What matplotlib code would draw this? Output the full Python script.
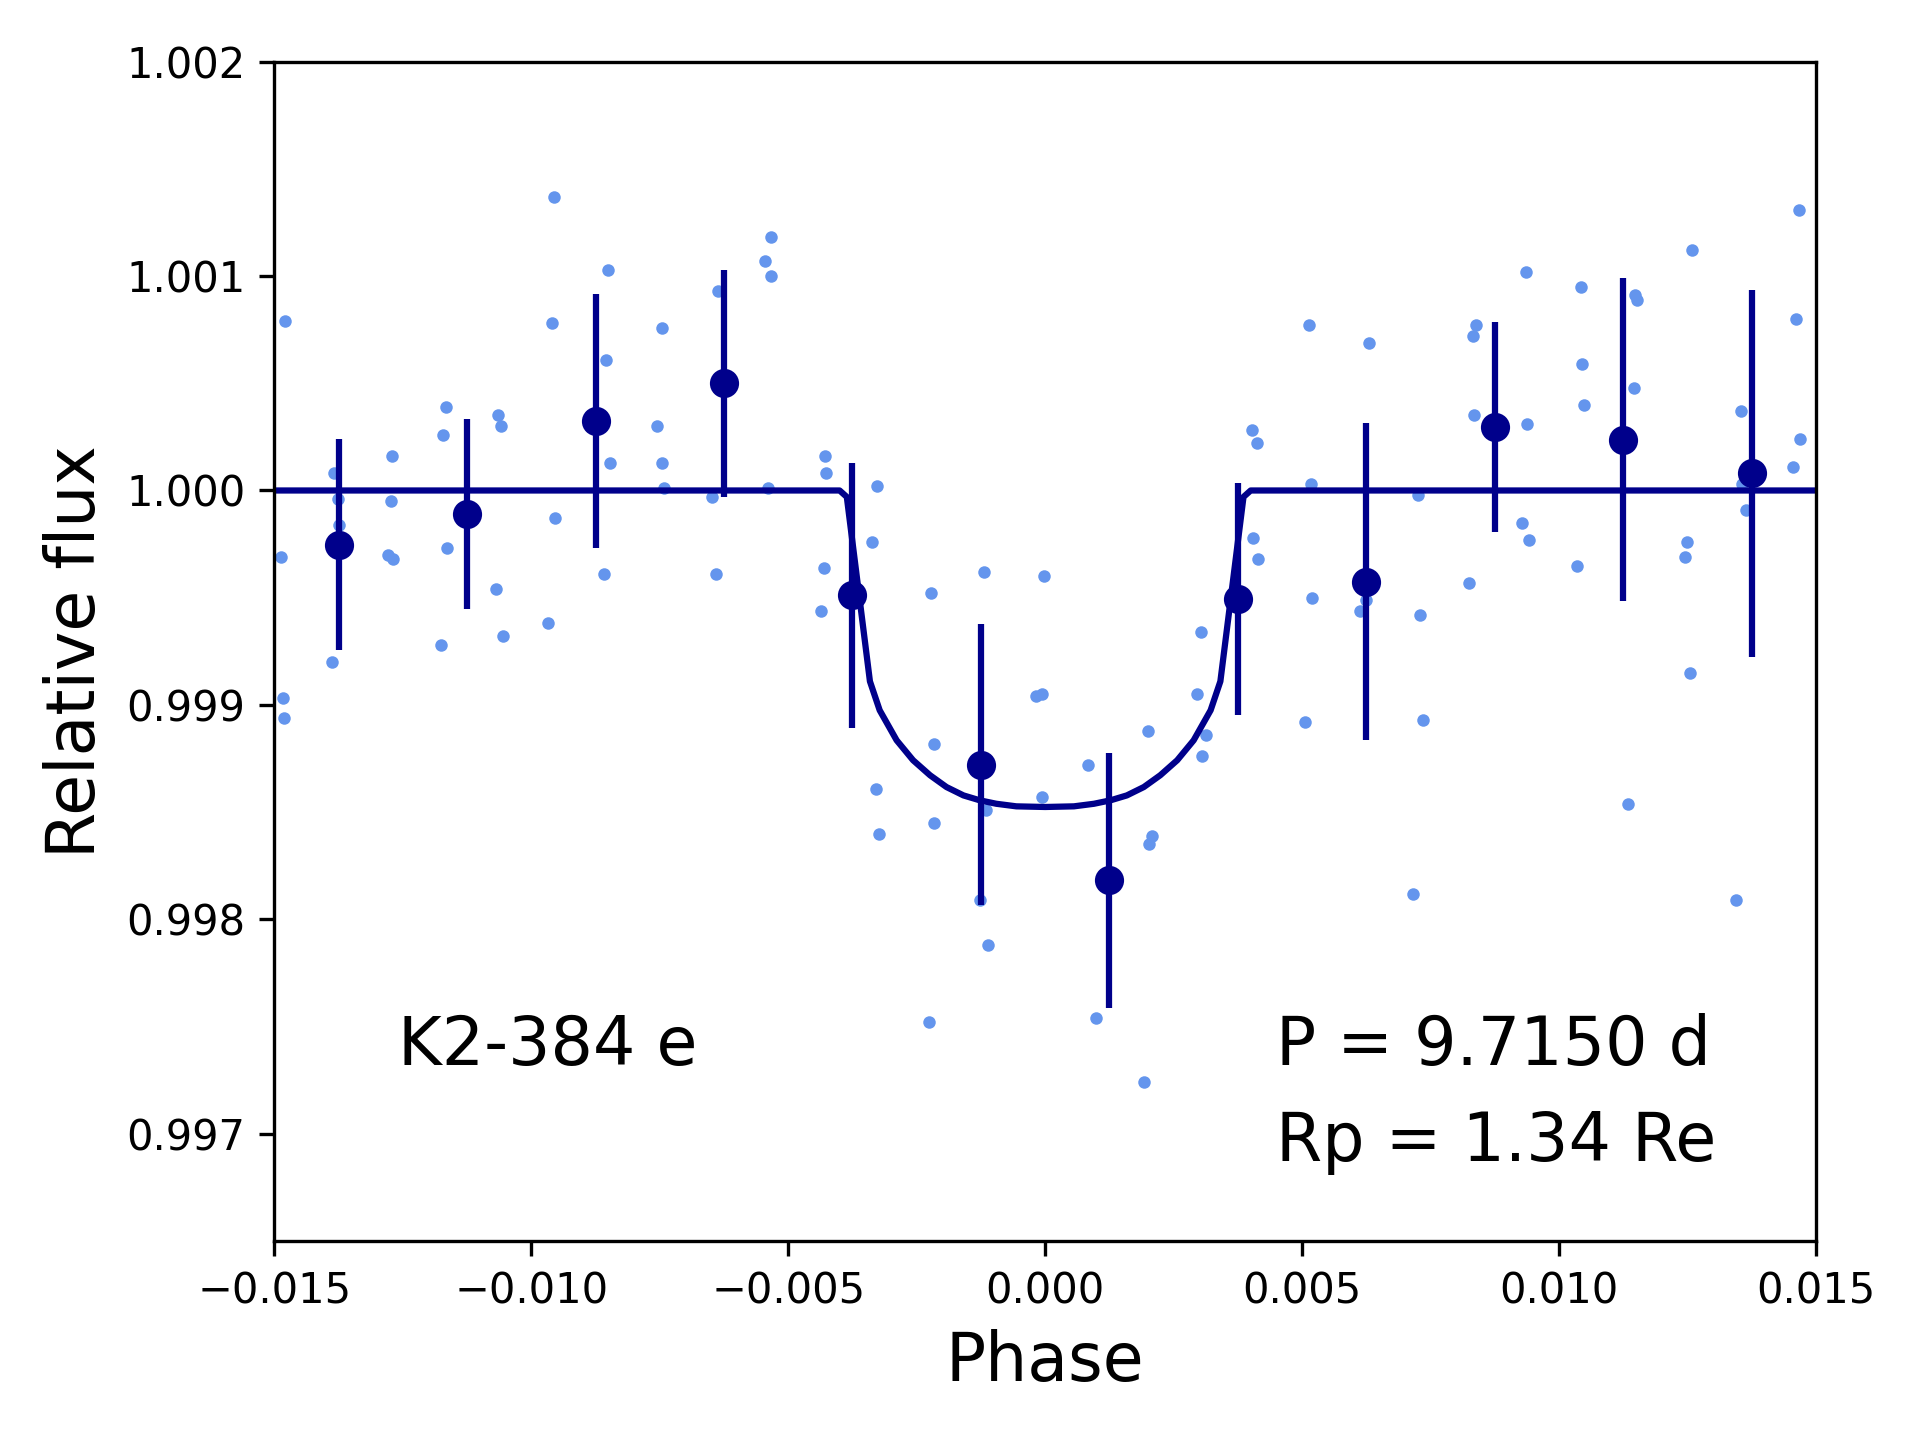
import numpy as np
import matplotlib
matplotlib.use("Agg")
import matplotlib.pyplot as plt

# ==============================================================================
# DATA
# ==============================================================================
phase_raw = [
    -0.01488, -0.01479, -0.01483, -0.01481,
    -0.01383, -0.01376, -0.01374, -0.01388,
    -0.01271, -0.01273, -0.01278, -0.01269,
    -0.01166, -0.01171, -0.01164, -0.01176,
    -0.01064, -0.01059, -0.01068, -0.01056,
    -0.00956, -0.00959, -0.00954, -0.00968,
    -0.00851, -0.00854, -0.00847, -0.00859,
    -0.00756, -0.00746, -0.00746, -0.00742,
    -0.00637, -0.00632, -0.00649, -0.00641,
    -0.00534, -0.00546, -0.00534, -0.00539,
    -0.00429, -0.00427, -0.00430, -0.00436,
    -0.00327, -0.00336, -0.00329, -0.00324,
    -0.00222, -0.00217, -0.00217, -0.00226,
    -0.00119, -0.00115, -0.00126, -0.00112,
    -0.00002, -0.00017, -0.00007, -0.00007,
    0.00084, 0.00098,
    0.00200, 0.00208, 0.00203, 0.00193,
    0.00303, 0.00296, 0.00313, 0.00305,
    0.00403, 0.00413, 0.00405, 0.00415,
    0.00513, 0.00517, 0.00520, 0.00505,
    0.00630, 0.00613, 0.00625,
    0.00725, 0.00730, 0.00735, 0.00715,
    0.00832, 0.00839, 0.00835, 0.00825,
    0.00935, 0.00937, 0.00928, 0.00942,
    0.01042, 0.01045, 0.01049, 0.01035,
    0.01147, 0.01152, 0.01145, 0.01135,
    0.01259, 0.01250, 0.01245, 0.01254,
    0.01355, 0.01357, 0.01364, 0.01345,
    0.01467, 0.01462, 0.01469, 0.01455,
]
flux_raw = [
    0.999688, 1.000790, 0.999030, 0.998940,
    1.000080, 0.999960, 0.999840, 0.999200,
    1.000160, 0.999950, 0.999700, 0.999680,
    1.000390, 1.000260, 0.999730, 0.999280,
    1.000350, 1.000300, 0.999540, 0.999320,
    1.001370, 1.000780, 0.999870, 0.999380,
    1.001030, 1.000610, 1.000130, 0.999610,
    1.000300, 1.000760, 1.000130, 1.000010,
    1.000930, 1.000470, 0.999970, 0.999610,
    1.001180, 1.001070, 1.001000, 1.000010,
    1.000160, 1.000080, 0.999640, 0.999440,
    1.000020, 0.999760, 0.998610, 0.998400,
    0.999520, 0.998820, 0.998450, 0.997520,
    0.999620, 0.998510, 0.998090, 0.997880,
    0.999600, 0.999040, 0.999050, 0.998570,
    0.998720, 0.997540,
    0.998880, 0.998390, 0.998350, 0.997240,
    0.999340, 0.999050, 0.998860, 0.998760,
    1.000280, 1.000220, 0.999780, 0.999680,
    1.000770, 1.000030, 0.999500, 0.998920,
    1.000690, 0.999440, 0.999490,
    0.999980, 0.999420, 0.998930, 0.998120,
    1.000720, 1.000770, 1.000350, 0.999570,
    1.001020, 1.000310, 0.999850, 0.999770,
    1.000950, 1.000590, 1.000400, 0.999650,
    1.000910, 1.000890, 1.000480, 0.998540,
    1.001120, 0.999760, 0.999690, 0.999150,
    1.000370, 1.000030, 0.999910, 0.998090,
    1.001310, 1.000800, 1.000240, 1.000110,
]

# binned light curve
phase_bin = [-0.01375, -0.01125, -0.00875, -0.00625, -0.00375, -0.00125,
             0.00125, 0.00375, 0.00625, 0.00875, 0.01125, 0.01375]
flux_bin  = [0.999748, 0.999892, 1.000324, 1.000500, 0.999511, 0.998722,
             0.998182, 0.999494, 0.999574, 1.000295, 1.000236, 1.000080]
err_bin   = [0.000492, 0.000443, 0.000591, 0.000530, 0.000619, 0.000654,
             0.000594, 0.000540, 0.000739, 0.000489, 0.000753, 0.000856]

# transit model
phase_mod = [-0.0150, -0.0040, -0.00386, -0.00341, -0.00322, -0.00289,
             -0.00257, -0.00224, -0.00192, -0.00159, -0.00127, -0.00095,
             -0.00056, 0.0,
             0.00056, 0.00095, 0.00127, 0.00159, 0.00192, 0.00224,
             0.00257, 0.00289, 0.00322, 0.00341, 0.00386, 0.0040, 0.0150]
flux_mod  = [1.0, 1.0, 0.99997, 0.99911, 0.998975, 0.998835,
             0.998742, 0.998672, 0.998617, 0.998578, 0.998555, 0.998539,
             0.998527, 0.998524,
             0.998527, 0.998539, 0.998555, 0.998578, 0.998617, 0.998672,
             0.998742, 0.998835, 0.998975, 0.99911, 0.99997, 1.0, 1.0]

planet   = "K2-384 e"
period_d = 9.7150
rp_re    = 1.34

# ==============================================================================
# FIGURE
# ==============================================================================
fig = plt.figure(figsize=(6.4, 4.8), dpi=300)
ax = fig.add_axes([0.1429, 0.1382, 0.8029, 0.819])

ax.plot(phase_raw, flux_raw, 'o', color='cornflowerblue', ms=3, mew=0, zorder=1)
ax.plot(phase_mod, flux_mod, '-', color='darkblue', lw=1.5, zorder=2)
ax.errorbar(phase_bin, flux_bin, yerr=err_bin, fmt='o', color='darkblue',
            ms=6, elinewidth=1.5, capsize=0, zorder=3)

ax.text(-0.0126, 0.99732, planet, fontsize=16, va='baseline')
ax.text(0.0045, 0.99732, f"P = {period_d:.4f} d", fontsize=16, va='baseline')
ax.text(0.0045, 0.996875, f"Rp = {rp_re:.2f} Re", fontsize=16, va='baseline')

ax.set_xlim(-0.015, 0.015)
ax.set_ylim(0.9965, 1.002)
ax.set_xticks(np.arange(-0.015, 0.0151, 0.005))
ax.set_yticks(np.arange(0.997, 1.00201, 0.001))
ax.ticklabel_format(useOffset=False)
ax.set_xlabel("Phase", fontsize=16)
ax.set_ylabel("Relative flux", fontsize=16)

fig.savefig("out.png", dpi=300)
